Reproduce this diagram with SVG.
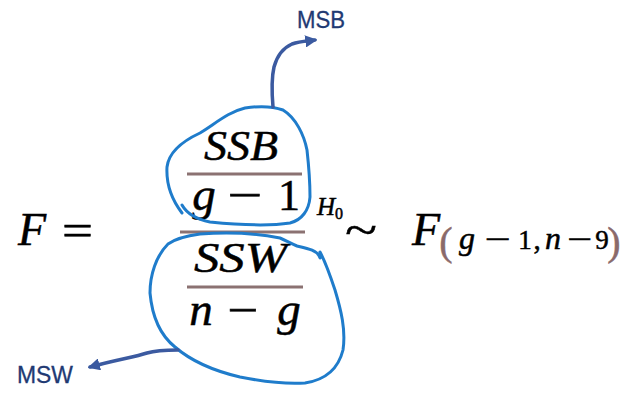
<svg xmlns="http://www.w3.org/2000/svg" width="620" height="411" viewBox="0 0 620 411">
<style>
.m{font-family:"Liberation Serif","DejaVu Serif",serif;font-style:italic;fill:#000;stroke:#000;stroke-width:0.5}
.u{font-family:"Liberation Serif","DejaVu Serif",serif;fill:#000;stroke:#000;stroke-width:0.5}
.c{text-anchor:middle}
.br{fill:#8a6a6a;stroke:#8a6a6a}
.bar{stroke:#8b7272;stroke-width:3}
.loop{fill:none;stroke:#1f7ccb;stroke-width:3;stroke-linecap:round;stroke-linejoin:round}
.arr{fill:none;stroke:#3b5aa0;stroke-width:3.5;stroke-linecap:round}
.lbl{font-family:"Liberation Sans","Open Sans",sans-serif;font-size:23px;fill:#1f3a73;stroke:#1f3a73;stroke-width:0.3}
</style>
<defs>
<marker id="ah" viewBox="0 0 10 10" refX="8" refY="5" markerWidth="3.5" markerHeight="3.5" orient="auto" markerUnits="strokeWidth">
<path d="M0,0 L10,5 L0,10 z" fill="#3b5aa0"/>
</marker>
</defs>
<rect width="620" height="411" fill="#fff"/>
<g id="formula">
<text class="m" x="18" y="245" font-size="46">F</text>
<text class="u" x="62" y="245" font-size="44" textLength="31" lengthAdjust="spacingAndGlyphs">=</text>
<text class="m" x="204" y="160" font-size="43" textLength="74" lengthAdjust="spacingAndGlyphs">SSB</text>
<line class="bar" x1="187" y1="174" x2="302" y2="174"/>
<text class="m c" x="204" y="210" font-size="47">g</text>
<text class="u c" x="245" y="210" font-size="44" textLength="35" lengthAdjust="spacingAndGlyphs">−</text>
<text class="u c" x="289" y="210" font-size="44">1</text>
<line class="bar" x1="180" y1="232" x2="305" y2="232"/>
<text class="m" x="194" y="272" font-size="43" textLength="93" lengthAdjust="spacingAndGlyphs">SSW</text>
<line class="bar" x1="187" y1="287" x2="303" y2="287"/>
<text class="m c" x="201" y="325" font-size="47">n</text>
<text class="u c" x="243" y="325" font-size="44" textLength="31" lengthAdjust="spacingAndGlyphs">−</text>
<text class="m c" x="289" y="325" font-size="47">g</text>
<text class="m" x="317" y="215" font-size="25" stroke-width="0.3">H</text>
<text class="u" x="335" y="219" font-size="16" stroke-width="0.3">0</text>
<text class="u c" x="361" y="245" font-size="46" textLength="32" lengthAdjust="spacingAndGlyphs">~</text>
<text class="m" x="412" y="245" font-size="46">F</text>
<text class="u c br" x="446" y="255" font-size="40" stroke-width="0.3">(</text>
<text class="m c" x="467" y="249" font-size="32">g</text>
<text class="u c" x="498" y="249" font-size="30" textLength="26" lengthAdjust="spacingAndGlyphs">−</text>
<text class="u c" x="525" y="249" font-size="27">1</text>
<text class="u c" x="537" y="249" font-size="29">,</text>
<text class="m c" x="553" y="249" font-size="32">n</text>
<text class="u c" x="580" y="249" font-size="30" textLength="25" lengthAdjust="spacingAndGlyphs">−</text>
<text class="u c" x="602" y="249" font-size="27">9</text>
<text class="u c br" x="614" y="255" font-size="40" stroke-width="0.3">)</text>
</g>
<g id="loop-top">
<path class="loop" d="M182,213 C172,200 166,185 167,167 C169,150 185,140 200,133 C215,124 228,112 245,108 C258,106 272,106 283,110 C296,118 304,135 307,150 C309,168 310,185 310,197 C309,210 302,220 290,223 C270,226 240,225 210,222 C195,219 186,212 182,205"/>
</g>
<g id="loop-bottom">
<path class="loop" d="M320,258 C318,250 306,248 297,246 C290,243 285,240 280,238 C255,233 225,232 200,234 C185,236 175,239 168,244 C156,256 150,275 150,293 C152,315 160,335 175,347 C190,360 210,370 240,377 C265,382 290,384 305,383 C325,380 338,370 343,350 C346,330 341,310 335,290 C330,275 326,263 320,252"/>
</g>
<g id="connectors">
<path class="arr" marker-end="url(#ah)" d="M273,107 C272,95 271,80 274,67 C277,56 283,48 292,44 C300,41 308,41 315,40"/>
<path class="arr" marker-end="url(#ah)" d="M178,350 C168,350 157,350 147,353 C135,357 115,360 90,367"/>
</g>
<g id="label-msb"><text class="lbl" x="297" y="28" textLength="48" lengthAdjust="spacingAndGlyphs">MSB</text></g>
<g id="label-msw"><text class="lbl" x="17" y="383" textLength="56" lengthAdjust="spacingAndGlyphs">MSW</text></g>
</svg>
